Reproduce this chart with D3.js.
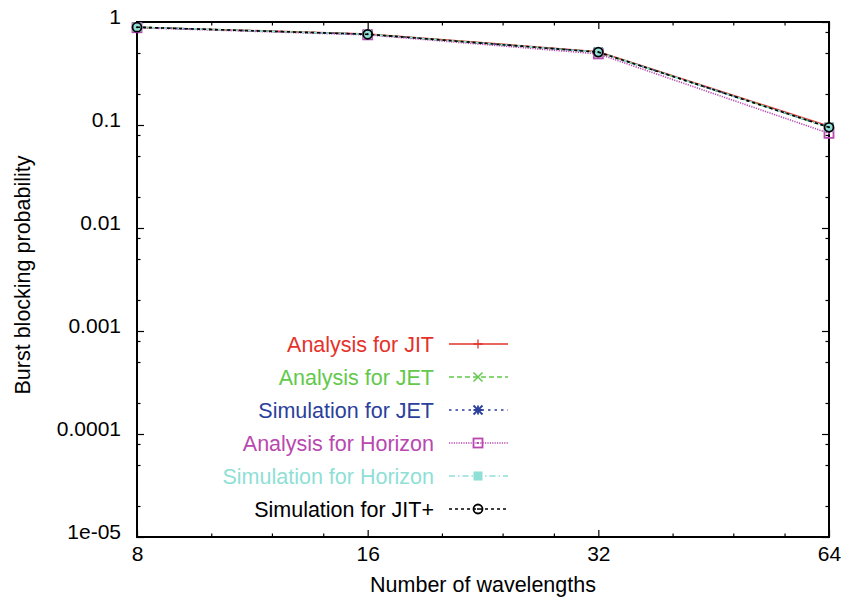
<!DOCTYPE html>
<html>
<head>
<meta charset="utf-8">
<script src="https://cdn.jsdelivr.net/npm/d3@7"></script>
<style>
  body { margin: 0; background: #fff; }
  svg { font-family: "Liberation Sans", Arial, Helvetica, sans-serif; }
</style>
</head>
<body>
<svg id="chart" width="843" height="601"></svg>
<script>
// wavelengths on the x axis
const wavelengths = [8, 16, 32, 64];

// blocking probability per series
const analysisJIT      = [0.89, 0.765, 0.515, 0.097];
const analysisJET      = [0.89, 0.76, 0.51, 0.095];
const simulationJET    = [0.89, 0.76, 0.51, 0.095];
const analysisHorizon  = [0.88, 0.75, 0.49, 0.083];
const simulationHorizon = [0.89, 0.76, 0.51, 0.095];
const simulationJITplus = [0.89, 0.76, 0.51, 0.095];

const seriesNames = ["Analysis for JIT", "Analysis for JET", "Simulation for JET",
                     "Analysis for Horizon", "Simulation for Horizon", "Simulation for JIT+"];

const yTicks = [1, 0.1, 0.01, 0.001, 0.0001, 0.00001];
const yTickLabels = ["1", "0.1", "0.01", "0.001", "0.0001", "1e-05"];
const yMinorTicks = [0.8, 0.5, 0.2, 0.08, 0.05, 0.02, 0.008, 0.005, 0.002,
                     0.0008, 0.0005, 0.0002, 0.00008, 0.00005, 0.00002];
const xMinorTicks = [10, 12, 14, 20, 24, 28, 40, 48, 56];

const series = [
  { name: seriesNames[0], values: analysisJIT,       color: "#e5322a", dash: null,        marker: "plus" },
  { name: seriesNames[1], values: analysisJET,       color: "#62c94b", dash: "5,3",       marker: "cross" },
  { name: seriesNames[2], values: simulationJET,     color: "#2b3f9c", dash: "2.5,4",     marker: "star" },
  { name: seriesNames[3], values: analysisHorizon,   color: "#b848b0", dash: "1.2,1.2",   marker: "square" },
  { name: seriesNames[4], values: simulationHorizon, color: "#8fdfd6", dash: "6,3,1.5,3", marker: "filledSquare" },
  { name: seriesNames[5], values: simulationJITplus, color: "#000000", dash: "3,3",       marker: "circle" }
];

const mLeft = 137, mRight = 829, mTop = 22, mBottom = 537;
const svg = d3.select("#chart");

const x = d3.scaleLog().base(2).domain([8, 64]).range([mLeft, mRight]);
const y = d3.scaleLog().domain([1e-5, 1]).range([mBottom, mTop]);

const fontSize = "21px";

// axes: ticks point inward on all four sides
function styleAxis(g) {
  g.select(".domain").remove();
  g.selectAll(".tick line").attr("stroke", "#000").attr("stroke-width", 1.2);
  g.selectAll(".tick text").attr("fill", "#000").style("font-size", fontSize);
}

svg.append("g")
  .attr("transform", `translate(${mLeft},0)`)
  .call(d3.axisLeft(y).tickValues(yTicks).tickSizeInner(-7).tickSizeOuter(0).tickPadding(16)
        .tickFormat((d, i) => yTickLabels[i]))
  .call(styleAxis)
  .call(g => g.selectAll(".tick text").attr("dy", "0.05em"));

svg.append("g")
  .attr("transform", `translate(${mLeft},0)`)
  .call(d3.axisLeft(y).tickValues(yMinorTicks).tickSize(-3.5).tickFormat(""))
  .call(styleAxis);

svg.append("g")
  .attr("transform", `translate(${mRight},0)`)
  .call(d3.axisRight(y).tickValues(yTicks).tickSize(-7).tickFormat(""))
  .call(styleAxis);

svg.append("g")
  .attr("transform", `translate(${mRight},0)`)
  .call(d3.axisRight(y).tickValues(yMinorTicks).tickSize(-3.5).tickFormat(""))
  .call(styleAxis);

svg.append("g")
  .attr("transform", `translate(0,${mBottom})`)
  .call(d3.axisBottom(x).tickValues(wavelengths).tickSizeInner(-7).tickSizeOuter(0).tickPadding(9)
        .tickFormat(d3.format("d")))
  .call(styleAxis);

svg.append("g")
  .attr("transform", `translate(0,${mBottom})`)
  .call(d3.axisBottom(x).tickValues(xMinorTicks).tickSize(-3.5).tickFormat(""))
  .call(styleAxis);

svg.append("g")
  .attr("transform", `translate(0,${mTop})`)
  .call(d3.axisTop(x).tickValues(wavelengths).tickSize(-7).tickFormat(""))
  .call(styleAxis);

svg.append("g")
  .attr("transform", `translate(0,${mTop})`)
  .call(d3.axisTop(x).tickValues(xMinorTicks).tickSize(-3.5).tickFormat(""))
  .call(styleAxis);

// frame
svg.append("rect")
  .attr("x", mLeft).attr("y", mTop)
  .attr("width", mRight - mLeft).attr("height", mBottom - mTop)
  .attr("fill", "none").attr("stroke", "#000").attr("stroke-width", 2);

// axis titles
svg.append("text")
  .attr("x", (mLeft + mRight) / 2).attr("y", 592)
  .attr("text-anchor", "middle")
  .style("font-size", "21.5px")
  .text("Number of wavelengths");

svg.append("text")
  .attr("transform", "translate(30,275) rotate(-90)")
  .attr("text-anchor", "middle")
  .style("font-size", "21.5px")
  .text("Burst blocking probability");

function drawMarker(g, kind, cx, cy, color) {
  const s = 4.5;
  if (kind === "plus") {
    g.append("path").attr("d", `M${cx - s},${cy}H${cx + s}M${cx},${cy - s}V${cy + s}`)
      .attr("stroke", color).attr("stroke-width", 1.3);
  } else if (kind === "cross") {
    g.append("path").attr("d", `M${cx - s},${cy - s}L${cx + s},${cy + s}M${cx - s},${cy + s}L${cx + s},${cy - s}`)
      .attr("stroke", color).attr("stroke-width", 1.5);
  } else if (kind === "star") {
    g.append("path").attr("d", `M${cx - s},${cy}H${cx + s}M${cx},${cy - s}V${cy + s}` +
                              `M${cx - s},${cy - s}L${cx + s},${cy + s}M${cx - s},${cy + s}L${cx + s},${cy - s}`)
      .attr("stroke", color).attr("stroke-width", 1.8);
  } else if (kind === "square") {
    g.append("rect").attr("x", cx - s).attr("y", cy - s).attr("width", 2 * s).attr("height", 2 * s)
      .attr("fill", "none").attr("stroke", color).attr("stroke-width", 1.8);
    g.append("rect").attr("x", cx - 1).attr("y", cy - 1).attr("width", 2).attr("height", 2).attr("fill", color);
  } else if (kind === "filledSquare") {
    g.append("rect").attr("x", cx - s).attr("y", cy - s).attr("width", 2 * s).attr("height", 2 * s)
      .attr("fill", color);
  } else if (kind === "circle") {
    g.append("circle").attr("cx", cx).attr("cy", cy).attr("r", s)
      .attr("fill", "none").attr("stroke", color).attr("stroke-width", 1.8);
    g.append("circle").attr("cx", cx).attr("cy", cy).attr("r", 1).attr("fill", color);
  }
}

const line = d3.line().x((d, i) => x(wavelengths[i])).y(d => y(d));

const plot = svg.append("g");
series.forEach(s => {
  plot.append("path")
    .datum(s.values)
    .attr("d", line)
    .attr("fill", "none")
    .attr("stroke", s.color)
    .attr("stroke-width", 1.6)
    .attr("stroke-dasharray", s.dash);
  const mg = plot.append("g");
  s.values.forEach((v, i) => drawMarker(mg, s.marker, x(wavelengths[i]), y(v), s.color));
});

// legend
const legend = svg.append("g");
series.forEach((s, i) => {
  const ly = 344 + i * 33;
  legend.append("text")
    .attr("x", 434).attr("y", ly).attr("dy", "0.35em")
    .attr("text-anchor", "end")
    .attr("fill", s.color)
    .style("font-size", "21.5px")
    .text(s.name);
  legend.append("line")
    .attr("x1", 449).attr("x2", 508).attr("y1", ly).attr("y2", ly)
    .attr("stroke", s.color).attr("stroke-width", 1.6)
    .attr("stroke-dasharray", s.dash);
  drawMarker(legend, s.marker, 478, ly, s.color);
});
</script>
</body>
</html>
